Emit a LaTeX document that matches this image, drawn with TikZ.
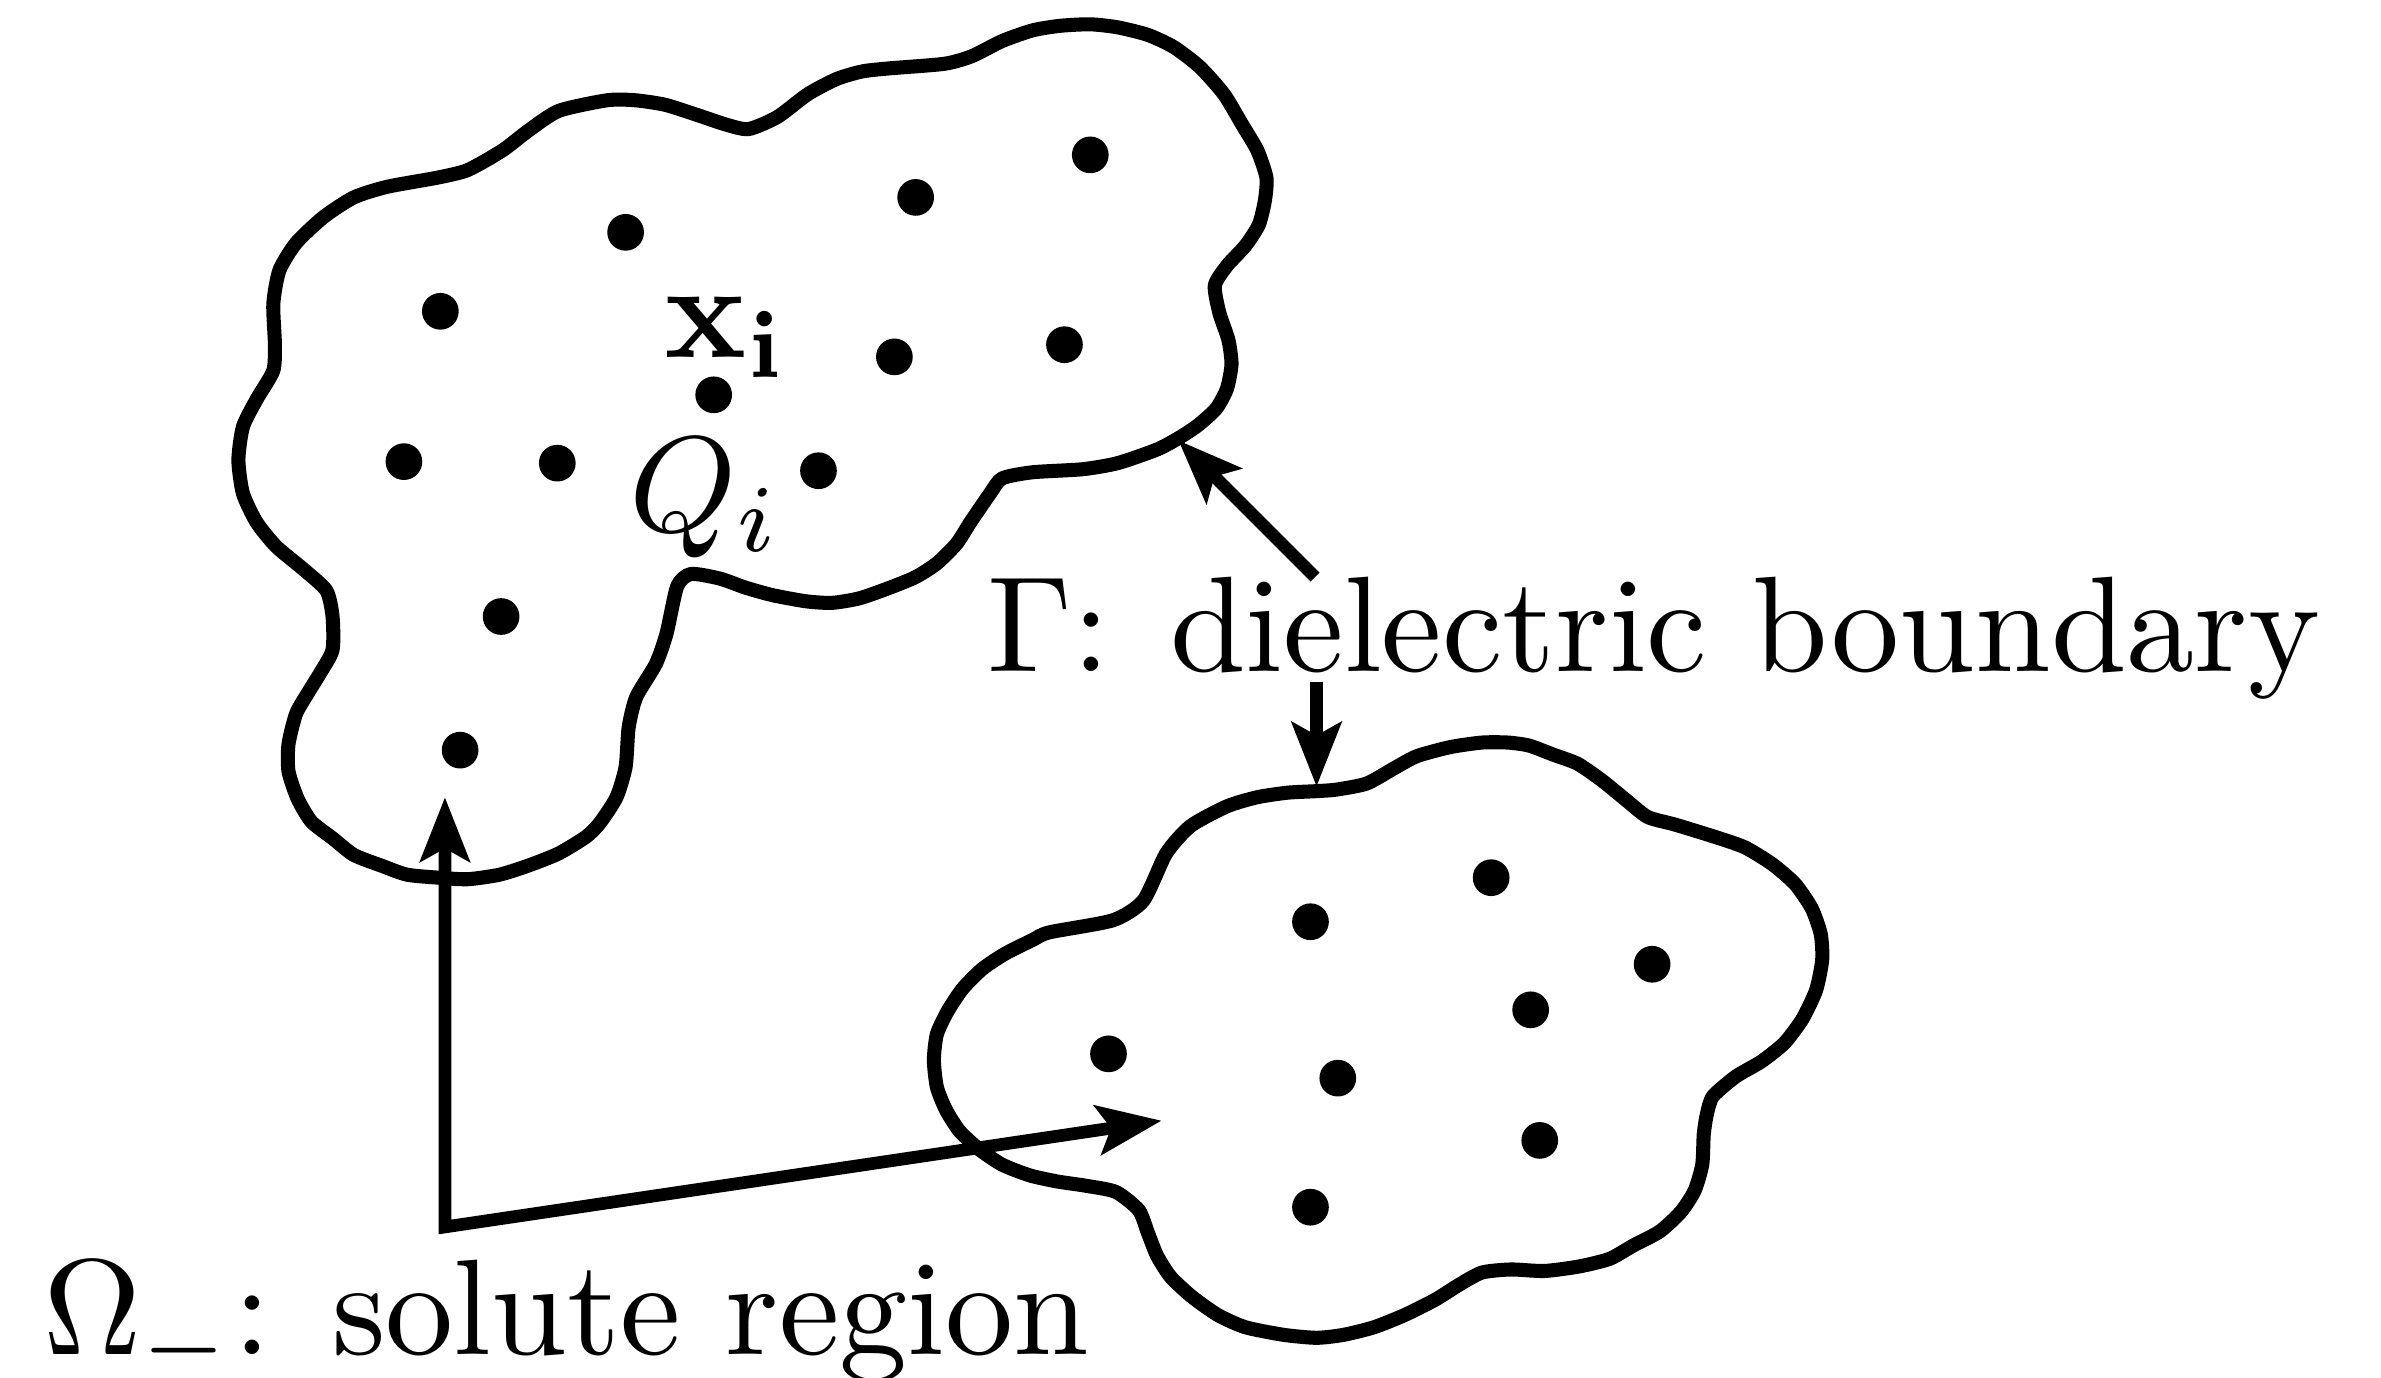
\documentclass[tikz,border=0pt]{standalone}
\usetikzlibrary{arrows.meta}
\begin{document}
\begin{tikzpicture}[x=0.015185cm,y=-0.015185cm,
  outline/.style={line width=4pt, line join=round},
  atom/.style={circle, fill=black, inner sep=0pt, minimum size=0.367cm},
  lbl/.style={inner sep=0pt, font=\normalsize, scale=3.87, transform shape},
  tipstyle/.tip={Stealth[length=0.64cm,width=0.49cm,inset=0.13cm]},
  pointer/.style={line width=3.6pt, -tipstyle},
  ]
\useasboundingbox (0,0) rectangle (1568,907);
% molecule 1
\draw[outline] plot[smooth cycle, tension=0.4] coordinates {
 (331,99) (348,86) (368,73) (400,66) (418,66) (438,69) (460,76) (478,82) (493,85)
 (512,77) (532,62) (551,52) (568,47) (586,45) (622,42) (640,37) (660,27) (680,20)
 (698,17) (718,16) (736,18) (756,23) (773,31) (790,44) (806,62) (818,82) (828,99)
 (834,117) (833,132) (829,148) (820,162) (808,175) (800,188) (803,206) (809,224)
 (811,240) (808,256) (801,269) (789,280) (777,288) (762,296) (736,305) (713,309)
 (680,311) (660,315) (652,325) (639,344) (630,358) (617,371) (603,380)
 (586,387) (566,394) (548,397) (531,396) (509,392) (491,387) (474,381) (455,378)
 (446,386) (439,417) (432,437) (419,459) (414,479) (412,505) (406,525) (395,542)
 (386,551) (368,562) (348,570) (329,576) (308,579) (289,578)
 (268,576) (251,570) (233,563) (219,552) (205,541) (196,526) (190,508) (190,490)
 (195,470) (203,456) (211,443) (219,428) (219,406) (215,389) (200,375) (182,360)
 (169,344) (160,325) (157,303) (160,281) (169,263) (180,244) (181,226)
 (180,200) (184,178) (195,160) (213,143) (233,130) (255,123) (288,117) (308,112) };
% molecule 2
\draw[outline] plot[smooth cycle, tension=0.4] coordinates {
 (867,521) (848,522) (828,525) (808,531) (784,544) (768,562) (753,593)
 (733,606) (691,614) (680,619) (662,628) (647,638) (634,651) (624,666)
 (617,681) (615,698) (617,716) (623,731) (632,745) (645,757) (660,767) (678,774)
 (696,778) (716,781) (735,785) (750,797) (756,812) (762,827) (771,841) (785,854)
 (802,866) (820,874) (845,879) (867,881) (885,879) (905,874) (925,866) (945,856)
 (961,846) (976,838) (995,836) (1017,837) (1040,834) (1060,829) (1076,820)
 (1093,811) (1107,798) (1116,784) (1121,767) (1122,747) (1124,734) (1128,722)
 (1143,709) (1160,699) (1175,687) (1187,671) (1196,652) (1200,632) (1199,615)
 (1193,598) (1182,582) (1167,569) (1149,558) (1129,551) (1103,543) (1085,538)
 (1071,527) (1055,514) (1039,503) (1023,497) (1007,491) (993,489) (976,489)
 (955,492) (933,498) (918,506) (900,516) (880,520) };
% atoms of molecule 1
\node[atom] (a1) at (412,153) {};
\node[atom] (a2) at (290,205) {};
\node[atom] (a3) at (470,260) {};
\node[atom] (a4) at (266,304) {};
\node[atom] (a5) at (367,305) {};
\node[atom] (a6) at (330,406) {};
\node[atom] (a7) at (303,494) {};
\node[atom] (a8) at (603,130) {};
\node[atom] (a9) at (718,102) {};
\node[atom] (a10) at (589,235) {};
\node[atom] (a11) at (701,227) {};
\node[atom] (a12) at (539,310) {};
% atoms of molecule 2
\node[atom] (b1) at (863,607) {};
\node[atom] (b2) at (982,578) {};
\node[atom] (b3) at (1088,635) {};
\node[atom] (b4) at (1008,665) {};
\node[atom] (b5) at (730,694) {};
\node[atom] (b6) at (881,710) {};
\node[atom] (b7) at (1014,751) {};
\node[atom] (b8) at (863,795) {};
% labels
\node[lbl, anchor=base west] (xi) at (436,235.3) {$\mathbf{x_i}$};
\node[lbl, anchor=base west] (qi) at (412.5,350) {$Q_i$};
\node[lbl, anchor=base west] (gam) at (648.3,442.5) {$\Gamma$: dielectric boundary};
\node[lbl, anchor=base west] (omg) at (27,892) {$\Omega_-$: solute region};
% connectors
\coordinate (g1s) at (866,380);
\coordinate (g1e) at (776,290);
\coordinate (g2s) at (867,449);
\coordinate (g2e) at (867,518);
\coordinate (oc) at (293,808);
\coordinate (o1) at (293,525);
\coordinate (o2) at (765,738);
\draw[pointer] (g1s) -- (g1e);
\draw[pointer] (g2s) -- (g2e);
\draw[pointer, tipstyle-tipstyle] (o1) -- (oc) -- (o2);
\end{tikzpicture}
\end{document}
